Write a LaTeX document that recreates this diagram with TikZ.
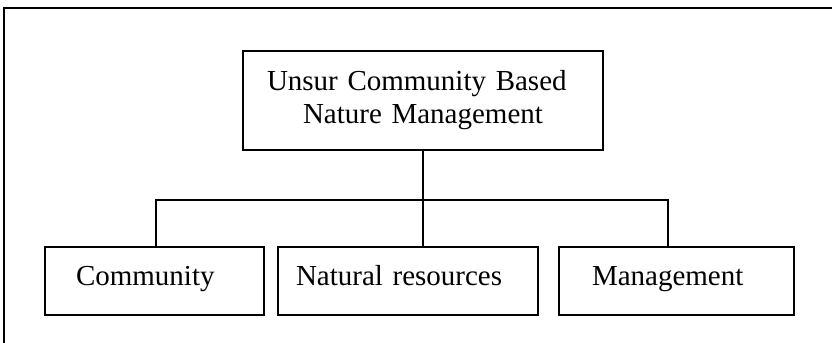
\documentclass[tikz,border=0pt]{standalone}
\usepackage{fontspec}
\setmainfont{Liberation Serif}
\usepackage{tikz}
\tikzset{
  main node/.style={rectangle,draw,line width=0.7pt,inner ysep=0pt,align=left,font=\fontsize{14.5pt}{16.5pt}\selectfont},
  top node/.style={main node,text width=156pt,inner xsep=12pt,minimum height=49.5pt},
  leaf node/.style={main node,minimum height=34pt,text height=10pt,text depth=6pt},
  link/.style={line width=0.6pt}
}

\begin{document}
\begin{tikzpicture}[x=0.5pt,y=-0.5pt]
  \useasboundingbox (0,0) rectangle (832,343);
  \draw [line width=0.8pt] (4,343) -- (4,8) -- (832,8);
  \node [top node] (unsur) at (423,100.5) {Unsur Community Based\\\hspace*{18pt}Nature Management};
  \node [leaf node,text width=78.5pt,inner xsep=15.5pt] (community) at (154.5,281) {Community};
  \node [leaf node,text width=112pt,inner xsep=9pt] (natural) at (408,281) {Natural resources};
  \node [leaf node,text width=84.5pt,inner xsep=16.5pt] (management) at (676.5,281) {Management};
  \coordinate (fork) at (423,200);
  \draw [link] (unsur.south) -- (unsur.south |- natural.north);
  \draw [link] ([xshift=0.75pt]community.north) |- (fork) -| ([xshift=-4.25pt]management.north);
\end{tikzpicture}
\end{document}
